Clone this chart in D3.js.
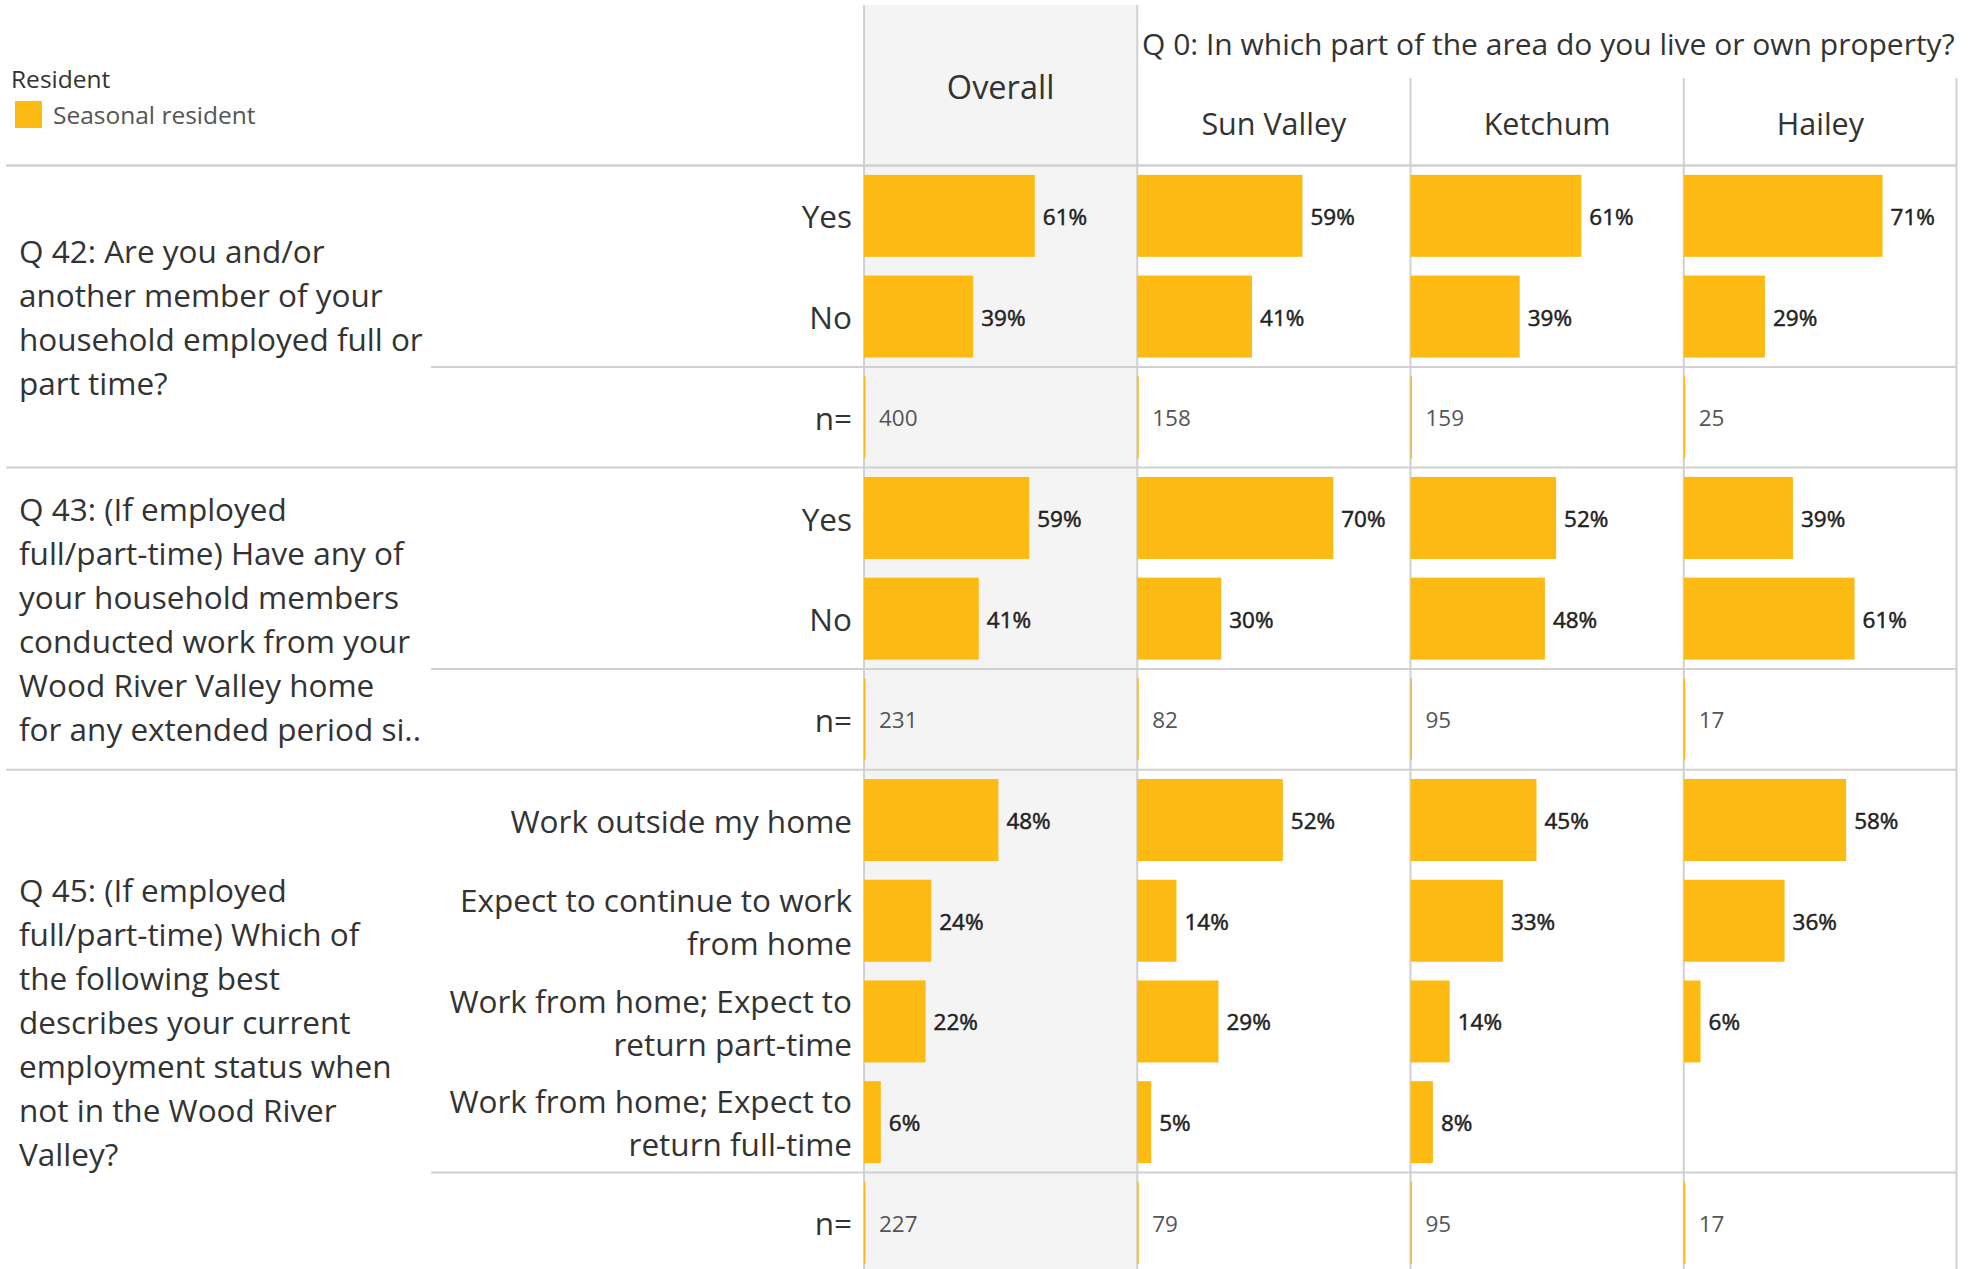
<!DOCTYPE html>
<html>
<head>
<meta charset="utf-8">
<script src="https://cdn.jsdelivr.net/npm/d3@7"></script>
<style>
  body { margin: 0; background: #fff; }
  svg { display: block; font-family: "Open Sans", "Noto Sans", sans-serif; }
</style>
</head>
<body>
<svg width="1974" height="1269"></svg>
<script>
// columns of the table
var columns = ['Overall', 'Sun Valley', 'Ketchum', 'Hailey'];
var headerTitle = 'Q 0: In which part of the area do you live or own property?';

// questions (text wrapped as in the picture)
var q42Text = ['Q 42: Are you and/or', 'another member of your', 'household employed full or', 'part time?'];
var q43Text = ['Q 43: (If employed', 'full/part-time) Have any of', 'your household members', 'conducted work from your', 'Wood River Valley home', 'for any extended period si..'];
var q45Text = ['Q 45: (If employed', 'full/part-time) Which of', 'the following best', 'describes your current', 'employment status when', 'not in the Wood River', 'Valley?'];

// answer labels
var q42Answers = [['Yes'], ['No']];
var q43Answers = [['Yes'], ['No']];
var q45Answers = [['Work outside my home'], ['Expect to continue to work', 'from home'], ['Work from home; Expect to', 'return part-time'], ['Work from home; Expect to', 'return full-time']];

// percentages per answer, in column order
var q42Values = [[61, 59, 61, 71], [39, 41, 39, 29]];
var q43Values = [[59, 70, 52, 39], [41, 30, 48, 61]];
var q45Values = [[48, 52, 45, 58], [24, 14, 33, 36], [22, 29, 14, 6], [6, 5, 8, null]];

// respondents
var q42N = [400, 158, 159, 25];
var q43N = [231, 82, 95, 17];
var q45N = [227, 79, 95, 17];

var blocks = [
  {text: q42Text, answers: q42Answers, values: q42Values, n: q42N},
  {text: q43Text, answers: q43Answers, values: q43Values, n: q43N},
  {text: q45Text, answers: q45Answers, values: q45Values, n: q45N}
];

var barColor = '#fdba12';
var gridColor = '#d0d0d0';
var textColor = '#333';

var svg = d3.select('svg');
var W = 1974, H = 1269;

var headerBottom = 165.5;
var rowStep = 100.7;

// flatten rows
var rows = [];
blocks.forEach(function (b, bi) {
  b.answers.forEach(function (a, ai) {
    rows.push({id: bi + '-' + ai, block: bi, label: a, values: b.values[ai], type: 'bar'});
  });
  rows.push({id: bi + '-n', block: bi, label: ['n='], values: b.n, type: 'n'});
});

var x = d3.scaleBand().domain(columns).range([864, 1957]);
var y = d3.scaleBand().domain(rows.map(function (r) { return r.id; }))
  .range([headerBottom, headerBottom + rows.length * rowStep])
  .paddingInner(0.186).paddingOuter(0.093);
var w = d3.scaleLinear().domain([0, 100]).range([0, 280]);

function rowTop(id) { return y(id) - y.step() * y.paddingOuter(); }

// Overall panel background
svg.append('rect')
  .attr('x', x('Overall'))
  .attr('y', 5)
  .attr('width', x.bandwidth())
  .attr('height', H - 5)
  .attr('fill', '#f4f4f4');

// legend
svg.append('text')
  .text('Resident')
  .attr('x', 11)
  .attr('y', 88)
  .attr('font-size', 24.5)
  .attr('fill', textColor);

svg.append('rect')
  .attr('x', 15)
  .attr('y', 101)
  .attr('width', 27)
  .attr('height', 27)
  .attr('fill', barColor);

svg.append('text')
  .text('Seasonal resident')
  .attr('x', 53)
  .attr('y', 124)
  .attr('font-size', 24.5)
  .attr('fill', '#555');

// headers
svg.append('text')
  .text(headerTitle)
  .attr('x', 1142)
  .attr('y', 44)
  .attr('dy', '0.38em')
  .attr('font-size', 30)
  .attr('fill', textColor);

svg.append('text')
  .text('Overall')
  .attr('x', x('Overall') + x.bandwidth() / 2)
  .attr('y', 87)
  .attr('dy', '0.38em')
  .attr('text-anchor', 'middle')
  .attr('font-size', 32.5)
  .attr('fill', textColor);

svg.selectAll('.colhead')
  .data(columns.slice(1))
  .enter().append('text')
  .attr('class', 'colhead')
  .text(function (d) { return d; })
  .attr('x', function (d) { return x(d) + x.bandwidth() / 2; })
  .attr('y', 123)
  .attr('dy', '0.38em')
  .attr('text-anchor', 'middle')
  .attr('font-size', 30.5)
  .attr('fill', textColor);

// vertical grid lines
svg.selectAll('.vline')
  .data(columns.concat(['end']))
  .enter().append('line')
  .attr('x1', function (d) { return d == 'end' ? 1956.5 : x(d); })
  .attr('x2', function (d) { return d == 'end' ? 1956.5 : x(d); })
  .attr('y1', function (d, i) { return i < 2 ? 5 : 78; })
  .attr('y2', H)
  .attr('stroke', gridColor)
  .attr('stroke-width', 2);

// horizontal lines
svg.append('line')
  .attr('x1', 6).attr('x2', 1957)
  .attr('y1', headerBottom).attr('y2', headerBottom)
  .attr('stroke', gridColor).attr('stroke-width', 2.5);

rows.forEach(function (r, i) {
  if (r.type == 'n') {
    var top = rowTop(r.id);
    svg.append('line')
      .attr('x1', 431).attr('x2', 1957)
      .attr('y1', top).attr('y2', top)
      .attr('stroke', gridColor).attr('stroke-width', 2);
    if (i < rows.length - 1) {
      var bottom = top + y.step();
      svg.append('line')
        .attr('x1', 6).attr('x2', 1957)
        .attr('y1', bottom).attr('y2', bottom)
        .attr('stroke', gridColor).attr('stroke-width', 2);
    }
  }
});

// question text on the left
blocks.forEach(function (b, bi) {
  var ids = rows.filter(function (r) { return r.block == bi; }).map(function (r) { return r.id; });
  var top = rowTop(ids[0]);
  var bottom = rowTop(ids[ids.length - 1]) + y.step();
  var mid = (top + bottom) / 2;
  var lh = 44;
  svg.append('g').selectAll('text')
    .data(b.text)
    .enter().append('text')
    .text(function (d) { return d; })
    .attr('x', 19)
    .attr('y', function (d, i) { return mid + (i - (b.text.length - 1) / 2) * lh; })
    .attr('dy', '0.4em')
    .attr('font-size', 31.5)
    .attr('fill', textColor);
});

// row labels
rows.forEach(function (r) {
  var cy = y(r.id) + y.bandwidth() / 2;
  var lh = 43;
  svg.append('g').selectAll('text')
    .data(r.label)
    .enter().append('text')
    .text(function (d) { return d; })
    .attr('x', 852)
    .attr('y', function (d, i) { return cy + (i - (r.label.length - 1) / 2) * lh; })
    .attr('dy', '0.4em')
    .attr('text-anchor', 'end')
    .attr('font-size', 31.5)
    .attr('fill', textColor);
});

// bars and labels
rows.forEach(function (r) {
  var cells = columns.map(function (c, ci) { return {col: c, v: r.values[ci]}; })
    .filter(function (d) { return d.v != null; });
  var g = svg.append('g');

  if (r.type == 'bar') {
    g.selectAll('rect')
      .data(cells)
      .enter().append('rect')
      .attr('x', function (d) { return x(d.col); })
      .attr('y', y(r.id))
      .attr('width', function (d) { return w(d.v); })
      .attr('height', y.bandwidth())
      .attr('fill', barColor);

    g.selectAll('text')
      .data(cells)
      .enter().append('text')
      .text(function (d) { return d.v + '%'; })
      .attr('x', function (d) { return x(d.col) + w(d.v) + 8; })
      .attr('y', y(r.id) + y.bandwidth() / 2)
      .attr('dy', '0.4em')
      .attr('font-size', 22.5)
      .attr('fill', '#222')
      .attr('stroke', '#222')
      .attr('stroke-width', 0.5);
  } else {
    g.selectAll('rect')
      .data(cells)
      .enter().append('rect')
      .attr('x', function (d) { return x(d.col); })
      .attr('y', y(r.id))
      .attr('width', 1.5)
      .attr('height', y.bandwidth())
      .attr('fill', barColor);

    g.selectAll('text')
      .data(cells)
      .enter().append('text')
      .text(function (d) { return d.v; })
      .attr('x', function (d) { return x(d.col) + 15; })
      .attr('y', y(r.id) + y.bandwidth() / 2)
      .attr('dy', '0.4em')
      .attr('font-size', 22.5)
      .attr('font-weight', 400)
      .attr('fill', '#555');
  }
});
</script>
</body>
</html>
